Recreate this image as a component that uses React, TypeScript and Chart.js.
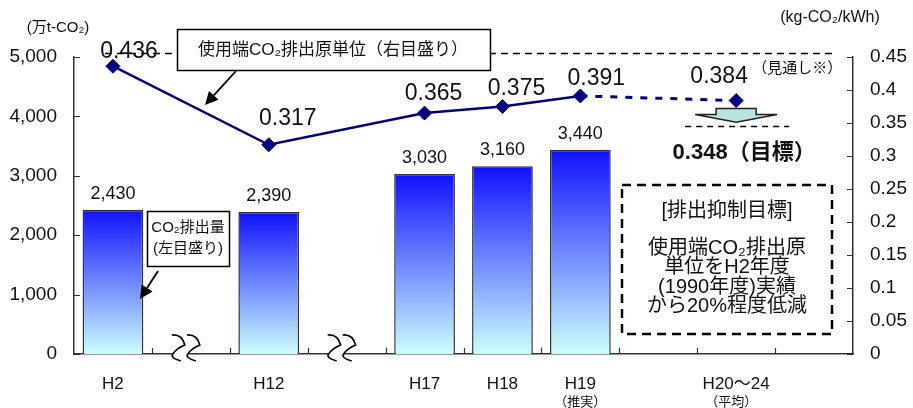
import React, { useEffect, useRef } from "react";
import { Chart, registerables } from "chart.js";

Chart.register(...registerables);

// Fiscal-year categories (two empty slots carry the axis-break marks)
const categories = ["H2", "", "H12", "", "H17", "H18", "H19", "", "H20～24", ""];
const subLabels = ["", "", "", "", "", "", "（推実）", "", "（平均）", ""];
const breakSlots = [1, 3];

// CO2 emissions (10k t-CO2), left scale
const emissions: (number | null)[] = [2430, null, 2390, null, 3030, 3160, 3440, null, null, null];

// End-use CO2 emission intensity (kg-CO2/kWh), right scale
const intensity: (number | null)[] = [0.436, null, 0.317, null, 0.365, 0.375, 0.391, null, 0.384, null];
const forecastIndex = 8;
const targetIntensity = 0.348;

// left / right scale ranges
const leftTicks = { min: 0, max: 5000, step: 1000 };
const rightTicks = { min: 0, max: 0.45, step: 0.05 };

// where each intensity label sits relative to its marker
const labelOffsets: ([number, number] | null)[] = [
  [16, -15], null, [19, -26], null, [9, -19], [14, -18], [16, -17], null, [-17, -24], null,
];

const LATIN = "'Liberation Sans', 'Noto Sans CJK JP', sans-serif";
const JP = "'Noto Sans CJK JP', 'Liberation Sans', sans-serif";
const NAVY = "#00007f";
const INK = "#111111";

function arrow(ctx: CanvasRenderingContext2D, x1: number, y1: number, x2: number, y2: number) {
  const ang = Math.atan2(y2 - y1, x2 - x1);
  const len = 13;
  const wid = 6.5;
  const bx = x2 - Math.cos(ang) * len;
  const by = y2 - Math.sin(ang) * len;
  ctx.beginPath();
  ctx.moveTo(x1, y1);
  ctx.lineTo(bx, by);
  ctx.strokeStyle = "#000";
  ctx.lineWidth = 1.8;
  ctx.stroke();
  ctx.beginPath();
  ctx.moveTo(x2, y2);
  ctx.lineTo(bx + Math.sin(ang) * wid, by - Math.cos(ang) * wid);
  ctx.lineTo(bx - Math.sin(ang) * wid, by + Math.cos(ang) * wid);
  ctx.closePath();
  ctx.fillStyle = "#000";
  ctx.fill();
}

// one wavy ">" stroke of an axis-break mark (arm ends curl outward)
function chevronPath(ctx: CanvasRenderingContext2D, x0: number, cy: number, reverse: boolean) {
  const top: [number, number] = [x0, cy - 14];
  const apex: [number, number] = [x0 + 13, cy - 4];
  const mid: [number, number] = [x0 + 1, cy + 5];
  const end: [number, number] = [x0 + 9, cy + 12];
  const c1: [number, number] = [x0 + 10, cy - 15];
  const c2: [number, number] = [x0 + 5, cy - 1];
  const c3: [number, number] = [x0 - 2, cy + 9];
  if (!reverse) {
    ctx.moveTo(top[0], top[1]);
    ctx.quadraticCurveTo(c1[0], c1[1], apex[0], apex[1]);
    ctx.quadraticCurveTo(c2[0], c2[1], mid[0], mid[1]);
    ctx.quadraticCurveTo(c3[0], c3[1], end[0], end[1]);
  } else {
    ctx.lineTo(end[0], end[1]);
    ctx.quadraticCurveTo(c3[0], c3[1], mid[0], mid[1]);
    ctx.quadraticCurveTo(c2[0], c2[1], apex[0], apex[1]);
    ctx.quadraticCurveTo(c1[0], c1[1], top[0], top[1]);
  }
}

function drawBreak(ctx: CanvasRenderingContext2D, cx: number, cy: number) {
  const a = cx - 15;
  const b = cx;
  ctx.beginPath();
  chevronPath(ctx, a, cy, false);
  chevronPath(ctx, b, cy, true);
  ctx.closePath();
  ctx.fillStyle = "#fff";
  ctx.fill();
  ctx.strokeStyle = "#000";
  ctx.lineWidth = 1.6;
  ctx.beginPath();
  chevronPath(ctx, a, cy, false);
  ctx.stroke();
  ctx.beginPath();
  chevronPath(ctx, b, cy, false);
  ctx.stroke();
}

const overlay = {
  id: "overlay",
  afterDraw(chart: any) {
    const { ctx, chartArea: ca, scales } = chart;
    const x = scales.x;
    const yL = scales.y;
    const yR = scales.y1;
    const half = (x.getPixelForValue(1) - x.getPixelForValue(0)) / 2;
    ctx.save();

    // inside tick marks
    ctx.strokeStyle = "#333";
    ctx.lineWidth = 1.2;
    ctx.beginPath();
    for (let i = 1; i < categories.length; i++) {
      const px = Math.round(x.getPixelForValue(i) - half) + 0.5;
      ctx.moveTo(px, ca.bottom);
      ctx.lineTo(px, ca.bottom - 6);
    }
    yL.ticks.forEach((_t: any, i: number) => {
      const py = Math.round(yL.getPixelForTick(i)) + 0.5;
      ctx.moveTo(ca.left, py);
      ctx.lineTo(ca.left + 6, py);
    });
    yR.ticks.forEach((_t: any, i: number) => {
      const py = Math.round(yR.getPixelForTick(i)) + 0.5;
      ctx.moveTo(ca.right, py);
      ctx.lineTo(ca.right - 6, py);
    });
    ctx.stroke();

    // dashed reference line along the top of the plot
    ctx.setLineDash([7, 5]);
    ctx.lineWidth = 1.5;
    ctx.strokeStyle = "#000";
    ctx.beginPath();
    const topY = Math.round(ca.top - 4) + 0.5;
    ctx.moveTo(x.getPixelForValue(0) - 8, topY);
    ctx.lineTo(ca.right - 20, topY);
    ctx.stroke();

    // target level line
    const fx = x.getPixelForValue(forecastIndex);
    const ty = Math.round(yR.getPixelForValue(targetIntensity) + 2) + 0.5;
    ctx.setLineDash([6, 5]);
    ctx.beginPath();
    ctx.moveTo(fx - 51, ty);
    ctx.lineTo(fx + 53, ty);
    ctx.stroke();
    ctx.setLineDash([]);

    // block arrow from forecast down to the target
    const aTop = yR.getPixelForValue(intensity[forecastIndex] as number) + 8;
    const aTip = yR.getPixelForValue(targetIntensity) - 2;
    const aHead = aTop + 6;
    ctx.beginPath();
    ctx.moveTo(fx - 20, aTop);
    ctx.lineTo(fx + 20, aTop);
    ctx.lineTo(fx + 20, aHead);
    ctx.lineTo(fx + 41, aHead);
    ctx.lineTo(fx, aTip);
    ctx.lineTo(fx - 41, aHead);
    ctx.lineTo(fx - 20, aHead);
    ctx.closePath();
    ctx.fillStyle = "#b9e3e3";
    ctx.fill();
    ctx.strokeStyle = "#222";
    ctx.lineWidth = 1.5;
    ctx.stroke();

    // target caption
    ctx.fillStyle = INK;
    ctx.textAlign = "center";
    ctx.textBaseline = "middle";
    ctx.font = `bold 22px ${LATIN}`;
    ctx.fillText(`${targetIntensity}（目標）`, fx + 8, ty + 26);
    ctx.font = `15px ${JP}`;
    ctx.fillText("（見通し※）", fx + 61, ca.top + 10);

    // bar value labels
    const barMeta = chart.getDatasetMeta(0);
    ctx.font = `18px ${LATIN}`;
    emissions.forEach((v, i) => {
      if (v == null) return;
      const el = barMeta.data[i];
      ctx.fillText(v.toLocaleString("en-US"), el.x, el.y - 16);
    });

    // intensity value labels
    const lineMeta = chart.getDatasetMeta(1);
    ctx.font = `23px ${LATIN}`;
    intensity.forEach((v, i) => {
      const off = labelOffsets[i];
      if (v == null || !off) return;
      const el = lineMeta.data[i];
      ctx.fillText(v.toFixed(3), el.x + off[0], el.y + off[1]);
    });

    // callout for the intensity line
    ctx.fillStyle = "#fff";
    ctx.fillRect(177, 29, 313, 41);
    ctx.strokeStyle = "#000";
    ctx.lineWidth = 1.5;
    ctx.strokeRect(177.5, 29.5, 313, 41);
    ctx.fillStyle = INK;
    ctx.font = `17px ${LATIN}`;
    ctx.fillText("使用端CO₂排出原単位（右目盛り）", 333, 50);
    arrow(ctx, 236, 71, 205, 105);

    // callout for the emission bars
    ctx.fillStyle = "#fff";
    ctx.fillRect(147, 211, 82, 55);
    ctx.strokeStyle = "#000";
    ctx.lineWidth = 1.5;
    ctx.strokeRect(147.5, 211.5, 82, 55);
    ctx.fillStyle = INK;
    ctx.font = `15px ${LATIN}`;
    ctx.fillText("CO₂排出量", 188, 228);
    ctx.fillText("(左目盛り)", 188, 249);
    arrow(ctx, 158, 271, 140, 299);

    // reduction target box
    ctx.setLineDash([9, 6]);
    ctx.lineWidth = 2.5;
    ctx.strokeStyle = "#000";
    ctx.strokeRect(622, 185, 210, 149);
    ctx.setLineDash([]);
    ctx.fillStyle = INK;
    ctx.font = `20px ${LATIN}`;
    ctx.fillText("[排出抑制目標]", 727, 211);
    ctx.fillText("使用端CO₂排出原", 727, 248);
    ctx.fillText("単位をH2年度", 727, 267.5);
    ctx.fillText("(1990年度)実績", 727, 287);
    ctx.fillText("から20%程度低減", 727, 306.5);

    // axis-break marks
    breakSlots.forEach((i) => drawBreak(ctx, x.getPixelForValue(i) - 4, ca.bottom - 5));

    // small second-line category notes
    ctx.fillStyle = INK;
    ctx.font = `13px ${JP}`;
    subLabels.forEach((s, i) => {
      if (!s) return;
      ctx.fillText(s, x.getPixelForValue(i) - (i === forecastIndex ? 5 : 0), ca.bottom + 47);
    });

    // axis units
    ctx.font = `15px ${LATIN}`;
    ctx.fillText("(万t-CO₂)", 58, 28);
    ctx.font = `16px ${LATIN}`;
    ctx.fillText("(kg-CO₂/kWh)", 830, 18);

    ctx.restore();
  },
};

export default function App() {
  const ref = useRef<HTMLCanvasElement | null>(null);

  useEffect(() => {
    document.body.style.margin = "0";
    const canvas = ref.current;
    if (!canvas) return;

    const chart = new Chart(canvas, {
      type: "bar",
      data: {
        labels: categories,
        datasets: [
          {
            type: "bar",
            label: "CO2排出量",
            data: emissions,
            yAxisID: "y",
            order: 1,
            barPercentage: 0.78,
            categoryPercentage: 1,
            borderColor: "#333",
            borderWidth: 1.5,
            backgroundColor: (c: any) => {
              const chart = c.chart;
              const v = emissions[c.dataIndex];
              if (!chart.chartArea || v == null) return "#4060ff";
              const y = chart.scales.y;
              const g = chart.ctx.createLinearGradient(0, y.getPixelForValue(v), 0, y.getPixelForValue(0));
              g.addColorStop(0, "#1010ff");
              g.addColorStop(1, "#ccffff");
              return g;
            },
          },
          {
            type: "line",
            label: "使用端CO2排出原単位",
            data: intensity,
            yAxisID: "y1",
            order: 0,
            spanGaps: true,
            borderColor: NAVY,
            borderWidth: 2.5,
            pointStyle: "rectRot",
            pointRadius: 7,
            pointBackgroundColor: NAVY,
            pointBorderColor: NAVY,
            pointBorderWidth: 1,
            segment: {
              borderDash: (s: any) => (s.p1DataIndex === forecastIndex ? [7, 8] : undefined),
              borderWidth: (s: any) => (s.p1DataIndex === forecastIndex ? 3 : undefined),
            },
          } as any,
        ],
      },
      options: {
        responsive: false,
        animation: false,
        layout: { padding: { top: 57, left: 0, right: 0, bottom: 0 } },
        plugins: {
          legend: { display: false },
          tooltip: { enabled: false },
        },
        scales: {
          x: {
            type: "category",
            offset: true,
            grid: { display: false },
            border: { display: true, color: "#333", width: 1.5 },
            ticks: {
              autoSkip: false,
              maxRotation: 0,
              padding: 12,
              color: INK,
              font: { size: 17, family: LATIN },
            },
            afterFit: (s: any) => {
              s.height = 54;
            },
          },
          y: {
            position: "left",
            min: leftTicks.min,
            max: leftTicks.max,
            grid: { display: false },
            border: { display: true, color: "#333", width: 1.5 },
            ticks: {
              stepSize: leftTicks.step,
              padding: 9,
              color: INK,
              font: { size: 19, family: LATIN },
              callback: (v: any) => Number(v).toLocaleString("en-US"),
            },
            afterFit: (s: any) => {
              s.width = 74;
            },
          },
          y1: {
            position: "right",
            min: rightTicks.min,
            max: rightTicks.max,
            grid: { display: false },
            border: { display: true, color: "#333", width: 1.5 },
            ticks: {
              stepSize: rightTicks.step,
              padding: 9,
              color: INK,
              font: { size: 19, family: LATIN },
              callback: (v: any) => String(Number(Number(v).toFixed(2))),
            },
            afterFit: (s: any) => {
              s.width = 60;
            },
          },
        },
      },
      plugins: [overlay],
    });

    return () => chart.destroy();
  }, []);

  return (
    <div style={{ width: 913, height: 408, position: "relative", background: "#fff" }}>
      <canvas ref={ref} width={913} height={408} style={{ display: "block" }} />
    </div>
  );
}
